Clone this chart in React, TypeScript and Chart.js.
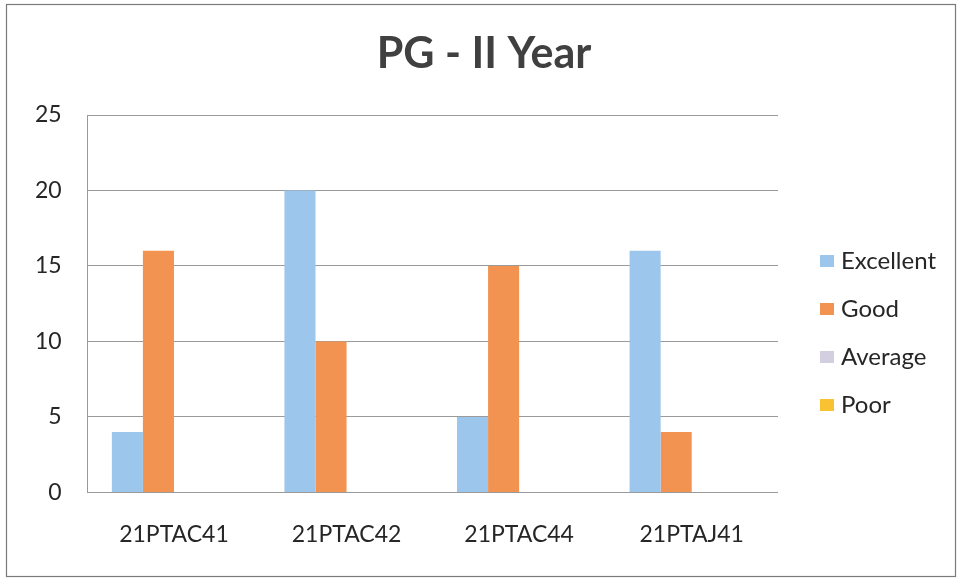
import React, { useEffect, useRef } from "react";
import { Chart, registerables } from "chart.js";

Chart.register(...registerables);

const categories = ["21PTAC41", "21PTAC42", "21PTAC44", "21PTAJ41"];
const seriesNames = ["Excellent", "Good", "Average", "Poor"];
const excellent = [4, 20, 5, 16];
const good = [16, 10, 15, 4];
const average = [0, 0, 0, 0];
const poor = [0, 0, 0, 0];
const seriesColors = ["#9dc6ec", "#f29352", "#d3cfe0", "#f8c233"];
const yTicks = [0, 5, 10, 15, 20, 25];
const titleText = "PG - II Year";

const FONT = "Lato, 'Open Sans', sans-serif";

export default function App() {
  const ref = useRef<HTMLCanvasElement | null>(null);

  useEffect(() => {
    const canvas = ref.current;
    if (!canvas) return;

    const frame = {
      id: "frame",
      beforeDraw(chart: any) {
        const ctx = chart.ctx;
        ctx.save();
        ctx.fillStyle = "#ffffff";
        ctx.fillRect(0, 0, chart.width, chart.height);
        ctx.strokeStyle = "#7a7a7a";
        ctx.lineWidth = 1.2;
        ctx.strokeRect(6.5, 4.5, 949, 572);
        ctx.restore();
      },
    };

    const titleAndLegend = {
      id: "titleAndLegend",
      afterDraw(chart: any) {
        const ctx = chart.ctx;
        ctx.save();
        ctx.font = `bold 43px ${FONT}`;
        ctx.fillStyle = "#404040";
        ctx.textAlign = "center";
        ctx.textBaseline = "middle";
        ctx.fillText(titleText, 484, 54);

        ctx.font = `24px ${FONT}`;
        ctx.textBaseline = "middle";
        ctx.textAlign = "left";
        chart.data.datasets.forEach((ds: any, i: number) => {
          const cy = 261 + i * 48;
          ctx.fillStyle = ds.backgroundColor;
          ctx.fillRect(820, cy - 6, 14, 12);
          ctx.fillStyle = "#262626";
          ctx.fillText(ds.label, 841, cy);
        });
        ctx.restore();
      },
    };

    const allSeries = [excellent, good, average, poor];

    const chart = new Chart(canvas, {
      type: "bar",
      data: {
        labels: categories,
        datasets: allSeries.map((d, i) => ({
          label: seriesNames[i],
          data: d,
          backgroundColor: seriesColors[i],
          borderWidth: 0,
          categoryPercentage: 0.72,
          barPercentage: 1.0,
        })),
      },
      options: {
        responsive: false,
        animation: false,
        layout: { padding: { left: 9, right: 181, top: 115, bottom: 4 } },
        plugins: {
          legend: { display: false },
          tooltip: { enabled: false },
          title: { display: false },
        },
        scales: {
          x: {
            grid: { display: false, drawTicks: false },
            border: { display: false },
            ticks: {
              color: "#262626",
              font: { family: FONT, size: 23 },
              padding: 28,
              maxRotation: 0,
            },
          },
          y: {
            min: 0,
            max: 25,
            afterBuildTicks: (axis: any) => {
              axis.ticks = yTicks.map((v) => ({ value: v }));
            },
            grid: { color: "#9a9a9a", lineWidth: 1, drawTicks: false },
            border: { display: true, color: "#9a9a9a", width: 1 },
            ticks: {
              color: "#262626",
              font: { family: FONT, size: 23 },
              padding: 26,
            },
          },
        },
      },
      plugins: [frame, titleAndLegend],
    });

    return () => chart.destroy();
  }, []);

  return (
    <div style={{ position: "absolute", left: 0, top: 0, width: 959, height: 580 }}>
      <canvas ref={ref} width={959} height={580} style={{ display: "block" }} />
    </div>
  );
}
